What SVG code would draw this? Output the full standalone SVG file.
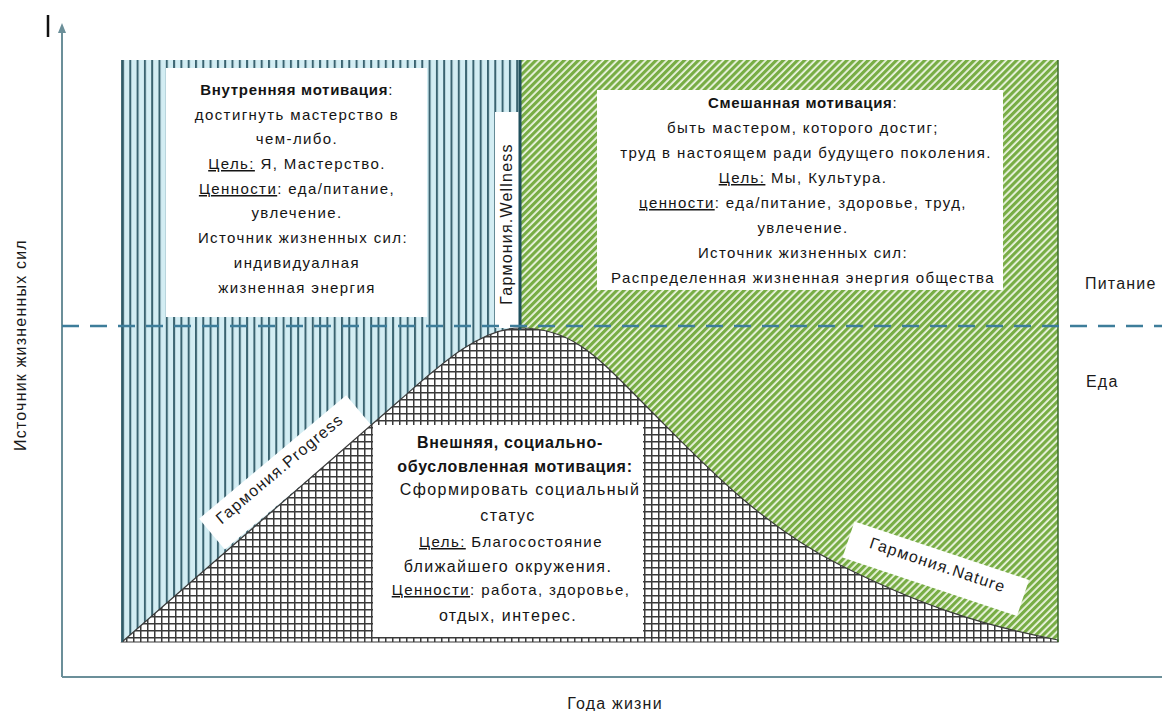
<svg xmlns="http://www.w3.org/2000/svg" width="1162" height="711" viewBox="0 0 1162 711">
<defs>
<style>
.t{font-family:"Liberation Sans",Arial,sans-serif;font-size:15px;fill:#141414;letter-spacing:1.4px;text-anchor:middle}
.t16{font-size:16px}
.b{font-weight:bold;letter-spacing:0.7px}
.u{text-decoration:underline}
.lbl{font-family:"Liberation Sans",Arial,sans-serif;font-size:16px;fill:#1a1a1a;letter-spacing:1.2px}
.box{fill:#ffffff}
.ax{stroke:#6b8f99;stroke-width:2;fill:none}
</style>
<pattern id="vstripes" x="122" y="0" width="7.3" height="10" patternUnits="userSpaceOnUse">
<rect width="7.3" height="10" fill="#d3edf3"/>
<line x1="1" y1="0" x2="1" y2="10" stroke="#3a6370" stroke-width="2"/>
</pattern>
<pattern id="grid" x="0" y="0" width="7" height="7" patternUnits="userSpaceOnUse">
<rect width="7" height="7" fill="#ffffff"/>
<path d="M0,0.75H7M0.75,0V7" stroke="#3a3a3a" stroke-width="1.5"/>
</pattern>
<pattern id="hatch" width="5" height="5" patternUnits="userSpaceOnUse" patternTransform="rotate(-45)">
<rect width="5" height="5" fill="#eef6e4"/>
<rect width="5" height="3.2" fill="#78ad45"/>
</pattern>
<marker id="arr" viewBox="0 0 10 10" refX="5" refY="5" markerWidth="5" markerHeight="5" orient="auto">
<path d="M0,1L10,5L0,9Z" fill="#6b8f99"/>
</marker>
</defs>
<rect width="1162" height="711" fill="#ffffff"/>
<g id="regions">
<rect id="region-inner" x="122" y="60" width="398" height="582" fill="url(#vstripes)"/>
<rect id="region-mixed" x="520" y="60" width="538" height="582" fill="url(#hatch)"/>
<rect x="495" y="112" width="24" height="216" fill="#ffffff"/>
<rect x="-96" y="-13" width="192" height="40" fill="#ffffff" transform="translate(281,467) rotate(-40)"/>
<rect x="-92" y="-15" width="184" height="38" fill="#ffffff" transform="translate(937,565) rotate(18.5)"/>
<path id="region-external" d="M122,642 L400,400 C440,365 480,328 520,328 C575,328 600,360 650,410 S760,525 840,565 S980,625 1058,640 L1058,642 Z" fill="url(#grid)" stroke="#3a3a3a" stroke-width="1.2"/>
<line x1="520" y1="60" x2="520" y2="330" stroke="#1f4f5c" stroke-width="3"/>
<line x1="1058" y1="60" x2="1058" y2="642" stroke="#3d6b2a" stroke-width="1.5"/>
<line x1="122" y1="60" x2="122" y2="642" stroke="#2f5b68" stroke-width="1.8"/>
</g>
<g id="connectors">
<line class="ax" x1="62" y1="677" x2="62" y2="28" marker-end="url(#arr)"/>
<line class="ax" x1="62" y1="677" x2="1162" y2="677"/>
<line x1="62" y1="326" x2="1162" y2="326" stroke="#3d7d9a" stroke-width="2.5" stroke-dasharray="17 11"/>
<line x1="48" y1="15" x2="48" y2="37" stroke="#111" stroke-width="2.5"/>
</g>
<g id="box-inner">
<rect class="box" x="166" y="68" width="261" height="249"/>
<text class="t" x="297" y="95"><tspan class="b">Внутренняя мотивация</tspan>:</text>
<text class="t" x="297" y="120">достигнуть мастерство в</text>
<text class="t" x="297" y="144">чем-либо.</text>
<text class="t" x="297" y="169"><tspan class="u">Цель:</tspan> Я, Мастерство.</text>
<text class="t" x="297" y="194"><tspan class="u">Ценности</tspan>: еда/питание,</text>
<text class="t" x="297" y="218">увлечение.</text>
<text class="t" x="303" y="243" letter-spacing="2">Источник жизненных сил:</text>
<text class="t" x="297" y="268">индивидуалная</text>
<text class="t" x="297" y="293">жизненная энергия</text>
</g>
<g id="box-mixed">
<rect class="box" x="597" y="90" width="406" height="200"/>
<text class="t" x="803" y="108"><tspan class="b">Смешанная мотивация</tspan>:</text>
<text class="t" x="803" y="133">быть мастером, которого достиг;</text>
<text class="t" x="806" y="158" letter-spacing="1.9">труд в настоящем ради будущего поколения.</text>
<text class="t" x="803" y="183"><tspan class="u">Цель:</tspan> Мы, Культура.</text>
<text class="t" x="803" y="208"><tspan class="u">ценности</tspan>: еда/питание, здоровье, труд,</text>
<text class="t" x="803" y="233">увлечение.</text>
<text class="t" x="803" y="258">Источник жизненных сил:</text>
<text class="t" x="803" y="283" letter-spacing="1.6">Распределенная жизненная энергия общества</text>
</g>
<g id="box-external">
<rect class="box" x="373" y="425" width="270" height="212"/>
<text class="t t16 b" x="510" y="448">Внешняя, социально-</text>
<text class="t t16 b" x="515" y="472" letter-spacing="1.3">обусловленная мотивация:</text>
<text class="t t16" x="520" y="495">Сформировать социальный</text>
<text class="t t16" x="508" y="521">статус</text>
<text class="t" x="511" y="547"><tspan class="u">Цель:</tspan> Благосостояние</text>
<text class="t t16" x="508" y="572">ближайшего окружения.</text>
<text class="t" x="511" y="595"><tspan class="u">Ценности</tspan>: работа, здоровье,</text>
<text class="t t16" x="508" y="621">отдых, интерес.</text>
</g>
<g id="label-wellness">
<text class="lbl" text-anchor="middle" letter-spacing="2" transform="translate(512,224) rotate(-90)">Гармония.Wellness</text>
</g>
<g id="label-progress">
<text class="lbl" text-anchor="middle" letter-spacing="1.6" transform="translate(283,473) rotate(-40)">Гармония.Progress</text>
</g>
<g id="label-nature">
<text class="lbl" text-anchor="middle" letter-spacing="1.6" transform="translate(936,570) rotate(18.5)">Гармония.Nature</text>
</g>
<g id="level-labels">
<text class="lbl" x="1085" y="289">Питание</text>
<text class="lbl" x="1086" y="387">Еда</text>
<text class="lbl" text-anchor="middle" letter-spacing="2.4" transform="translate(26,345) rotate(-90)">Источник жизненных сил</text>
<text class="lbl" x="615" y="709" text-anchor="middle" letter-spacing="1.6">Года жизни</text>
</g>
</svg>
